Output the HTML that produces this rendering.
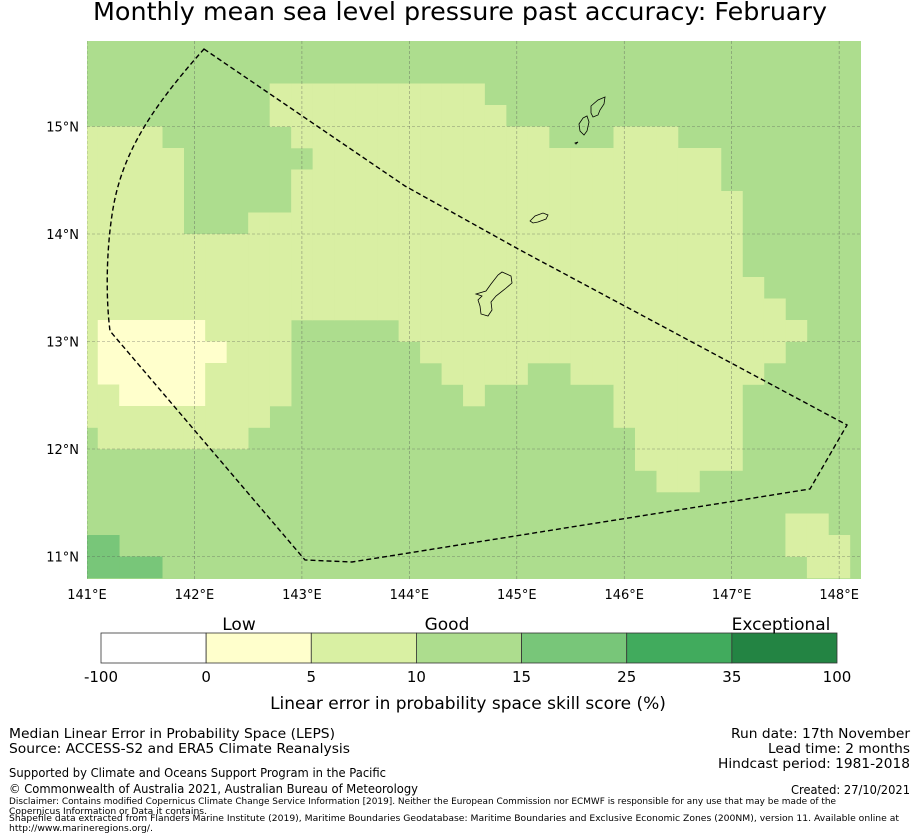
<!DOCTYPE html>
<html><head><meta charset="utf-8"><style>
html,body{margin:0;padding:0;background:#fff;}
svg{display:block;font-family:"DejaVu Sans","Liberation Sans",sans-serif;}
</style></head><body>
<svg id="chart" width="919" height="839" viewBox="0 0 919 839" xmlns="http://www.w3.org/2000/svg">
<text x="460" y="20" font-size="25" text-anchor="middle" textLength="734" lengthAdjust="spacingAndGlyphs">Monthly mean sea level pressure past accuracy: February</text>
<defs><clipPath id="mapclip"><rect x="87" y="41" width="774" height="538"/></clipPath></defs>
<g id="map" clip-path="url(#mapclip)">
<rect x="87" y="41" width="774" height="538" fill="#addd8e"/>
<g id="cells"></g>
<g id="grid"></g>
<g fill="none" stroke="#000" stroke-width="0.8">
<path d="M476,294 L486,291 L491,284 L498,275 L502,272 L511,276 L512,283 L505,289 L496,296 L491,302 L492,310 L488,316 L481,314 L480,306 L478,300 L482,296 Z"/>
<path d="M530,221 L535,216 L543,213 L548,215 L546,219 L538,222 L533,223 Z"/>
<path d="M583,118 L587,116 L589,122 L587,131 L584,135 L580,131 L579,124 Z"/>
<path d="M591,106 L598,100 L605,97 L604,104 L600,110 L598,115 L593,117 L591,113 Z"/>
<path d="M575,143 L578,142 L576,144 Z"/>
</g>
<path fill="none" stroke="#000" stroke-width="1.4" stroke-dasharray="5,3" d="M204,49 L405,186 L520,250 L847,425 L810,489 L352,562 L305,560 L110,331 C106,300 106,255 112,215 C120,160 145,115 204,49 Z"/>
</g>
<g id="axes" font-size="13"></g>
<g id="colorbar"></g>
<text x="239" y="630" font-size="17" text-anchor="middle">Low</text>
<text x="447" y="630" font-size="17" text-anchor="middle">Good</text>
<text x="781" y="630" font-size="17" text-anchor="middle">Exceptional</text>
<text x="468" y="709" font-size="17" text-anchor="middle">Linear error in probability space skill score (%)</text>
<g font-size="13">
<text x="9" y="738" textLength="326" lengthAdjust="spacingAndGlyphs">Median Linear Error in Probability Space (LEPS)</text>
<text x="9" y="753" textLength="341" lengthAdjust="spacingAndGlyphs">Source: ACCESS-S2 and ERA5 Climate Reanalysis</text>
<text x="9" y="777" font-size="12" textLength="377" lengthAdjust="spacingAndGlyphs">Supported by Climate and Oceans Support Program in the Pacific</text>
<text x="9" y="793" font-size="12" textLength="409" lengthAdjust="spacingAndGlyphs">© Commonwealth of Australia 2021, Australian Bureau of Meteorology</text>
<text x="9" y="804" font-size="9" textLength="827" lengthAdjust="spacingAndGlyphs">Disclaimer: Contains modified Copernicus Climate Change Service Information [2019]. Neither the European Commission nor ECMWF is responsible for any use that may be made of the</text>
<text x="9" y="814" font-size="9" textLength="198" lengthAdjust="spacingAndGlyphs">Copernicus Information or Data it contains.</text>
<text x="9" y="821" font-size="9" textLength="890" lengthAdjust="spacingAndGlyphs">Shapefile data extracted from Flanders Marine Institute (2019), Maritime Boundaries Geodatabase: Maritime Boundaries and Exclusive Economic Zones (200NM), version 11. Available online at</text>
<text x="9" y="831" font-size="9" textLength="144" lengthAdjust="spacingAndGlyphs">http://www.marineregions.org/.</text>
<text x="910" y="738" text-anchor="end" textLength="179" lengthAdjust="spacingAndGlyphs">Run date: 17th November</text>
<text x="910" y="753" text-anchor="end" textLength="142" lengthAdjust="spacingAndGlyphs">Lead time: 2 months</text>
<text x="910" y="768" text-anchor="end" textLength="192" lengthAdjust="spacingAndGlyphs">Hindcast period: 1981-2018</text>
<text x="910" y="794" font-size="12" text-anchor="end" textLength="119" lengthAdjust="spacingAndGlyphs">Created: 27/10/2021</text>
</g>
</svg>
<script>
// skill category per cell, run-length encoded [category, count] per row.
// rows from lat 15.7 down to 10.9, 37 cols from lon 141.0 to 148.2 (step 0.2)
const skillRuns = [
[[2,37]],
[[2,37]],
[[2,9],[1,10],[2,18]],
[[2,9],[1,11],[2,17]],
[[1,4],[2,6],[1,12],[2,3],[1,3],[2,9]],
[[1,5],[2,6],[1,19],[2,7]],
[[1,5],[2,5],[1,20],[2,7]],
[[1,5],[2,5],[1,21],[2,6]],
[[1,5],[2,3],[1,23],[2,6]],
[[1,31],[2,6]],
[[1,31],[2,6]],
[[1,32],[2,5]],
[[1,33],[2,4]],
[[1,1],[0,5],[1,4],[2,5],[1,19],[2,3]],
[[1,1],[0,6],[1,3],[2,6],[1,17],[2,4]],
[[1,1],[0,5],[1,4],[2,7],[1,4],[2,2],[1,9],[2,5]],
[[1,2],[0,4],[1,4],[2,8],[1,1],[2,6],[1,6],[2,6]],
[[1,9],[2,16],[1,6],[2,6]],
[[2,1],[1,7],[2,18],[1,5],[2,6]],
[[2,26],[1,5],[2,6]],
[[2,27],[1,2],[2,8]],
[[2,37]],
[[2,33],[1,2],[2,2]],
[[3,2],[2,31],[1,3],[2,1]],
[[3,4],[2,30],[1,2],[2,1]]
];
const levelColors = ["#ffffcc","#d9efa3","#addd8e","#78c679","#41ab5d"];
const lonTicks = [141,142,143,144,145,146,147,148];
const latTicks = [15,14,13,12,11];
const cbBounds = ["-100","0","5","10","15","25","35","100"];
const cbColors = ["#ffffff","#ffffcc","#d9f0a3","#addd8e","#78c679","#41ab5d","#238443"];

const NS = "http://www.w3.org/2000/svg";
const xScale = lon => 87 + (lon - 141) * 107.45;
const yScale = lat => 126.5 - (lat - 15) * 107.5;
function mk(tag, attrs, parent){const e=document.createElementNS(NS,tag);for(const k in attrs)e.setAttribute(k,attrs[k]);parent.appendChild(e);return e;}

const cells = document.getElementById('cells');
skillRuns.forEach((runs, r) => {
  const latC = 15.7 - 0.2 * r;
  let c = 0;
  runs.forEach(([v, n]) => {
    for (let k = 0; k < n; k++, c++) {
      if (v === 2) continue;
      const lonC = 141 + 0.2 * c;
      const x0 = xScale(lonC - 0.1), x1 = xScale(lonC + 0.1);
      const y0 = yScale(latC + 0.1), y1 = yScale(latC - 0.1);
      const rect = mk('rect', {x: x0, y: y0, width: x1 - x0 + 0.3, height: y1 - y0 + 0.3, fill: levelColors[v]}, cells);
      
      
    }
  });
});

const grid = document.getElementById('grid');
const axes = document.getElementById('axes');
lonTicks.forEach(lon => {
  const x = xScale(lon);
  const gl = mk('line', {x1: x, x2: x, y1: 41, y2: 579, stroke: '#555', 'stroke-width': 0.6, 'stroke-dasharray': '3,2', 'stroke-opacity': 0.6}, grid);
  
  
  const t = mk('text', {x: x, y: 599, 'text-anchor': 'middle'}, axes);
  t.textContent = lon + '°E';
  
  
});
latTicks.forEach(lat => {
  const y = yScale(lat);
  const gl = mk('line', {x1: 87, x2: 861, y1: y, y2: y, stroke: '#555', 'stroke-width': 0.6, 'stroke-dasharray': '3,2', 'stroke-opacity': 0.6}, grid);
  
  
  const t = mk('text', {x: 79, y: y + 5, 'text-anchor': 'end'}, axes);
  t.textContent = lat + '°N';
  
  
});

const cb = document.getElementById('colorbar');
const cbX0 = 101, cbW = (837 - 101) / cbColors.length;
cbColors.forEach((col, i) => {
  const r = mk('rect', {x: cbX0 + i * cbW, y: 633, width: cbW, height: 30, fill: col, stroke: '#333', 'stroke-width': 0.8}, cb);
  
  
});
cbBounds.forEach((lab, i) => {
  const t = mk('text', {x: cbX0 + i * cbW, y: 682, 'text-anchor': 'middle', 'font-size': 15}, cb);
  t.textContent = lab;
  
  
});
</script>
</body></html>
